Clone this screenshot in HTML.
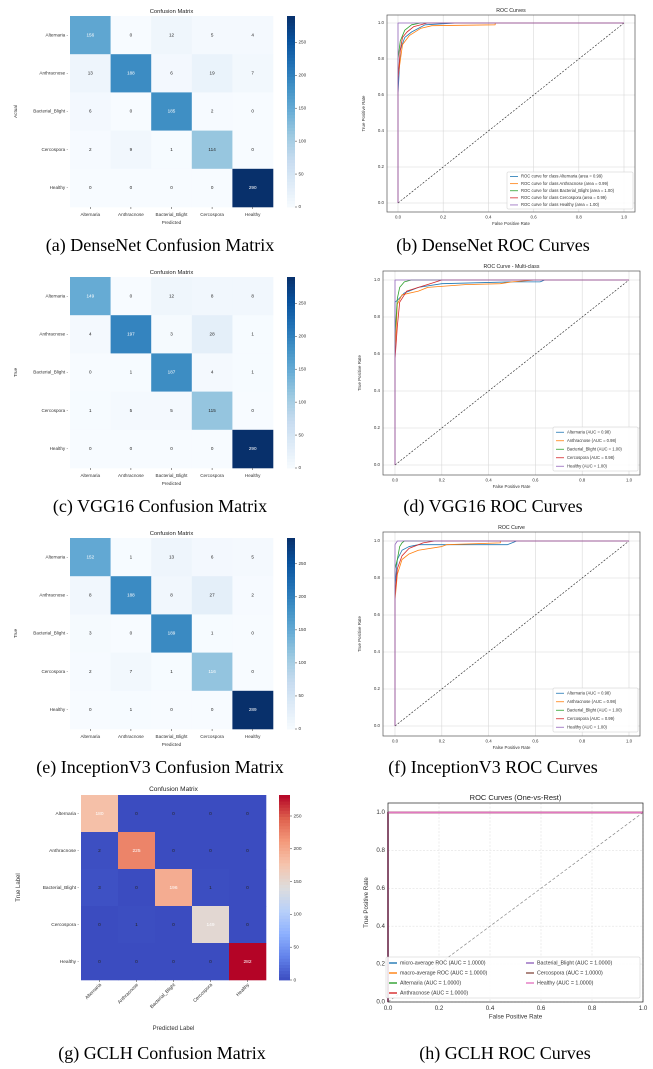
<!DOCTYPE html>
<html><head><meta charset="utf-8">
<style>
html,body{margin:0;padding:0;background:#fff;}
svg{display:block;font-family:"Liberation Sans","DejaVu Sans",sans-serif;}
.cap{font-family:"Liberation Serif",serif;font-size:18px;fill:#000;}
</style></head>
<body>
<svg id="fig" width="653" height="1069" viewBox="0 0 653 1069" xmlns="http://www.w3.org/2000/svg">
<text class="cap" x="160" y="251" text-anchor="middle">(a) DenseNet Confusion Matrix</text>
<text class="cap" x="493" y="251" text-anchor="middle">(b) DenseNet ROC Curves</text>
<text class="cap" x="160" y="512" text-anchor="middle">(c) VGG16 Confusion Matrix</text>
<text class="cap" x="493" y="512" text-anchor="middle">(d) VGG16 ROC Curves</text>
<text class="cap" x="160" y="773" text-anchor="middle">(e) InceptionV3 Confusion Matrix</text>
<text class="cap" x="493" y="773" text-anchor="middle">(f) InceptionV3 ROC Curves</text>
<text class="cap" x="162" y="1059" text-anchor="middle">(g) GCLH Confusion Matrix</text>
<text class="cap" x="505" y="1059" text-anchor="middle">(h) GCLH ROC Curves</text>
</svg>
<script>
const CLASSES = ['Alternaria','Anthracnose','Bacterial_Blight','Cercospora','Healthy'];
const cmDenseNet = [[156,0,12,5,4],[13,188,6,19,7],[6,0,185,2,0],[2,9,1,114,0],[0,0,0,0,290]];
const cmVGG = [[149,0,12,8,8],[4,197,3,28,1],[0,1,187,4,1],[1,5,5,115,0],[0,0,0,0,290]];
const cmInception = [[152,1,13,6,5],[8,188,8,27,2],[3,0,189,1,0],[2,7,1,116,0],[0,1,0,0,289]];
const cmGCLH = [[180,0,0,0,0],[2,225,0,0,0],[3,0,196,1,0],[0,1,0,149,0],[0,0,0,0,282]];
const cbTicks = [0,50,100,150,200,250];
const rocTicks = [0,0.2,0.4,0.6,0.8,1.0];
const tickLabels = ['0.0','0.2','0.4','0.6','0.8','1.0'];

const denseFpr = [
 [0,0,0.01,0.03,0.06,0.09,0.12,0.26,1],
 [0,0,0.02,0.05,0.1,0.15,0.43,0.43,1],
 [0,0,0.01,0.03,0.06,0.1,1],
 [0,0,0.01,0.02,0.04,0.07,0.13,1],
 [0,0,1]];
const denseTpr = [
 [0,0.6,0.85,0.92,0.95,0.97,0.99,1,1],
 [0,0.7,0.88,0.93,0.97,0.985,0.99,1,1],
 [0,0.8,0.9,0.96,0.99,1,1],
 [0,0.68,0.85,0.92,0.95,0.98,1,1],
 [0,1,1]];
const denseLegend = ['ROC curve for class Alternaria (area = 0.99)','ROC curve for class Anthracnose (area = 0.99)','ROC curve for class Bacterial_Blight (area = 1.00)','ROC curve for class Cercospora (area = 0.99)','ROC curve for class Healthy (area = 1.00)'];

const vggFpr = [
 [0,0,0.01,0.04,0.1,0.2,0.5,0.62,0.64,1],
 [0,0,0.01,0.03,0.1,0.14,0.3,0.45,0.5,0.6,1],
 [0,0,0.01,0.02,0.04,0.07,1],
 [0,0,0.01,0.02,0.05,0.1,0.15,0.2,1],
 [0,0,1]];
const vggTpr = [
 [0,0.88,0.89,0.93,0.96,0.98,0.99,0.99,1,1],
 [0,0.6,0.87,0.92,0.94,0.96,0.975,0.98,0.99,1,1],
 [0,0.7,0.9,0.96,0.99,1,1],
 [0,0.57,0.75,0.88,0.94,0.96,0.98,1,1],
 [0,1,1]];
const vggLegend = ['Alternaria (AUC = 0.98)','Anthracnose (AUC = 0.98)','Bacterial_Blight (AUC = 1.00)','Cercospora (AUC = 0.98)','Healthy (AUC = 1.00)'];

const incFpr = [
 [0,0,0.01,0.03,0.06,0.1,0.48,0.5,0.52,1],
 [0,0,0.01,0.03,0.06,0.1,0.2,0.22,0.45,0.45,1],
 [0,0,0.01,0.02,0.03,0.04,1],
 [0,0,0.01,0.03,0.06,0.1,0.12,0.17,1],
 [0,0,0.01,1]];
const incTpr = [
 [0,0.75,0.9,0.95,0.97,0.98,0.98,0.99,1,1],
 [0,0.68,0.82,0.9,0.93,0.95,0.97,0.98,0.99,1,1],
 [0,0.85,0.9,0.97,0.99,1,1],
 [0,0.7,0.85,0.92,0.96,0.98,0.99,1,1],
 [0,0.98,1,1]];
const incLegend = ['Alternaria (AUC = 0.98)','Anthracnose (AUC = 0.98)','Bacterial_Blight (AUC = 1.00)','Cercospora (AUC = 0.99)','Healthy (AUC = 1.00)'];

const gclhFpr = [[0,0,1],[0,0,1],[0,0,1],[0,0,1],[0,0,1],[0,0,1],[0,0,1]];
const gclhTpr = [[0,1,1],[0,1,1],[0,1,1],[0,1,1],[0,1,1],[0,1,1],[0,1,1]];
const gclhLegend = ['micro-average ROC (AUC = 1.0000)','macro-average ROC (AUC = 1.0000)','Alternaria (AUC = 1.0000)','Anthracnose (AUC = 1.0000)','Bacterial_Blight (AUC = 1.0000)','Cercospora (AUC = 1.0000)','Healthy (AUC = 1.0000)'];

const C10 = ['#1f77b4','#ff7f0e','#2ca02c','#d62728','#9467bd','#8c564b','#e377c2'];
const NS = 'http://www.w3.org/2000/svg';
const svg = document.getElementById('fig');

function mk(tag, attrs, parent){
  const e = document.createElementNS(NS, tag);
  for (const k in attrs) e.setAttribute(k, attrs[k]);
  (parent||svg).appendChild(e);
  return e;
}
function txt(s, attrs, parent){ const e = mk('text', attrs, parent); e.textContent = s; return e; }

const BLUES = [[247,251,255],[222,235,247],[198,219,239],[158,202,225],[107,174,214],[66,146,198],[33,113,181],[8,81,156],[8,48,107]];
const COOL = [[59,76,192],[98,130,234],[141,176,254],[184,208,249],[221,221,221],[245,196,173],[244,154,123],[222,96,77],[180,4,38]];
function cmap(stops, t){
  t = Math.max(0, Math.min(1, t));
  const p = t*(stops.length-1), i = Math.min(Math.floor(p), stops.length-2), f = p-i;
  const a = stops[i], b = stops[i+1];
  return 'rgb('+a.map((v,k)=>Math.round(v+(b[k]-v)*f)).join(',')+')';
}

function drawCM(o){
  const g = mk('g', {});
  
  
  const n = CLASSES.length, cw = o.w/n, ch = o.h/n;
  const vmax = Math.max(...o.data.flat());
  const t = txt('Confusion Matrix', {x:o.x+o.w/2, y:o.titleY, 'text-anchor':'middle', 'font-size':o.tfs, fill:'#222'}, g);
  
  
  o.data.forEach((row, r) => row.forEach((v, c) => {
    const cell = mk('rect', {x:o.x+c*cw, y:o.y+r*ch, width:cw+0.3, height:ch+0.3, fill:cmap(o.cmap, v/vmax)}, g);
    
    
    const lab = txt(String(v), {x:o.x+(c+0.5)*cw, y:o.y+(r+0.5)*ch, 'text-anchor':'middle', 'dominant-baseline':'middle', 'font-size':o.fs, fill:(v/vmax>0.4)?'#fff':'#262626'}, g);
    
    
  }));
  CLASSES.forEach((name, i) => {
    const yl = txt(name+' -', {x:o.x-2, y:o.y+(i+0.5)*ch, 'text-anchor':'end', 'dominant-baseline':'middle', 'font-size':o.fs, fill:'#333'}, g);
    
    
    const cx = o.x+(i+0.5)*cw;
    mk('line', {x1:cx, x2:cx, y1:o.y+o.h, y2:o.y+o.h+2, stroke:'#333', 'stroke-width':0.5}, g);
    let xl;
    if (o.rotated){
      xl = txt(name, {x:cx+2, y:o.y+o.h+5, 'text-anchor':'end', 'font-size':o.fs, fill:'#333', transform:'rotate(-45 '+(cx+2)+' '+(o.y+o.h+5)+')'}, g);
    } else {
      xl = txt(name, {x:cx, y:o.y+o.h+9, 'text-anchor':'middle', 'font-size':o.fs, fill:'#333'}, g);
    }
    
    
  });
  const xt = txt(o.xlabel, {x:o.x+o.w/2, y:o.xlY, 'text-anchor':'middle', 'font-size':o.lfs, fill:'#333'}, g);
  
  
  const yt = txt(o.ylabel, {x:o.ylX, y:o.y+o.h/2, 'text-anchor':'middle', 'font-size':o.lfs, fill:'#333', transform:'rotate(-90 '+o.ylX+' '+(o.y+o.h/2)+')'}, g);
  
  
  const steps = 60;
  for (let i=0;i<steps;i++){
    const s = mk('rect', {x:o.cbx, y:o.y+o.h*(1-(i+1)/steps), width:o.cbw, height:o.h/steps+0.4, fill:cmap(o.cmap, (i+0.5)/steps)}, g);
    
    
  }
  cbTicks.forEach(v => {
    const yy = o.y+o.h*(1-v/vmax);
    mk('line', {x1:o.cbx+o.cbw, x2:o.cbx+o.cbw+2, y1:yy, y2:yy, stroke:'#333', 'stroke-width':0.5}, g);
    const cl = txt(String(v), {x:o.cbx+o.cbw+3.5, y:yy, 'dominant-baseline':'middle', 'font-size':o.fs, fill:'#333'}, g);
    
    
  });
}

function drawROC(o){
  const g = mk('g', {});
  
  
  const sx = v => o.px0 + (o.px1-o.px0)*v;
  const sy = v => o.py0 + (o.py1-o.py0)*v;
  mk('rect', {x:o.ax, y:o.ay, width:o.aw, height:o.ah, fill:'#fff'}, g);
  rocTicks.forEach((v, i) => {
    const gx = mk('line', {x1:sx(v), x2:sx(v), y1:o.ay, y2:o.ay+o.ah, stroke:o.gridColor, 'stroke-width':0.6, 'stroke-dasharray':o.gridDash||'none'}, g);
    
    
    const gy = mk('line', {x1:o.ax, x2:o.ax+o.aw, y1:sy(v), y2:sy(v), stroke:o.gridColor, 'stroke-width':0.6, 'stroke-dasharray':o.gridDash||'none'}, g);
    
    
    const xl = txt(tickLabels[i], {x:sx(v), y:o.ay+o.ah+o.tfs+2, 'text-anchor':'middle', 'font-size':o.tfs, fill:'#333'}, g);
    
    
    const yl = txt(tickLabels[i], {x:o.ax-3, y:sy(v), 'text-anchor':'end', 'dominant-baseline':'middle', 'font-size':o.tfs, fill:'#333'}, g);
    
    
  });
  const diag = mk('line', {x1:sx(0), y1:sy(0), x2:sx(1), y2:sy(1), stroke:o.diagColor, 'stroke-width':o.diagW, 'stroke-dasharray':o.diagDash}, g);
  
  
  o.fpr.forEach((xs, k) => {
    const d = xs.map((x, i) => (i?'L':'M')+sx(x).toFixed(2)+' '+sy(o.tpr[k][i]).toFixed(2)).join(' ');
    const p = mk('path', {d:d, fill:'none', stroke:C10[k], 'stroke-width':o.lw, 'stroke-linejoin':'round'}, g);
    
    
  });
  mk('rect', {x:o.ax, y:o.ay, width:o.aw, height:o.ah, fill:'none', stroke:o.frame, 'stroke-width':0.7}, g);
  const tt = txt(o.title, {x:o.ax+o.aw/2, y:o.ay-3, 'text-anchor':'middle', 'font-size':o.titleFs, fill:'#222'}, g);
  
  
  const xt = txt('False Positive Rate', {x:o.ax+o.aw/2, y:o.ay+o.ah+o.tfs*2+4, 'text-anchor':'middle', 'font-size':o.lfs, fill:'#333'}, g);
  
  
  const yx = o.ax-o.ylOff, yy = o.ay+o.ah/2;
  const yt = txt('True Positive Rate', {x:yx, y:yy, 'text-anchor':'middle', 'font-size':o.lfs, fill:'#333', transform:'rotate(-90 '+yx+' '+yy+')'}, g);
  
  
  const L = o.legend;
  const lb = mk('rect', {x:L.x, y:L.y, width:L.w, height:L.h, fill:'#fff', 'fill-opacity':0.85, stroke:'#ccc', 'stroke-width':0.5, rx:1}, g);
  
  
  o.labels.forEach((s, k) => {
    const col = L.cols>1 ? Math.floor(k/L.perCol) : 0;
    const row = L.cols>1 ? k%L.perCol : k;
    const lx = L.x+3+col*(L.colW||0), ly = L.y+L.dy*(row+0.5)+1;
    mk('line', {x1:lx, x2:lx+8, y1:ly, y2:ly, stroke:C10[k], 'stroke-width':o.lw}, g);
    const lt = txt(s, {x:lx+11, y:ly, 'dominant-baseline':'middle', 'font-size':L.fs, fill:'#333'}, g);
    
    
  });
}

drawCM({name:'densenet-confusion-matrix', data:cmDenseNet, cmap:BLUES, x:70, y:16, w:203, h:191, cbx:287, cbw:8, titleY:13, fs:4.6, tfs:5.8, lfs:4.6, xlabel:'Predicted', xlY:224, ylabel:'Actual', ylX:17});
drawCM({name:'vgg16-confusion-matrix', data:cmVGG, cmap:BLUES, x:70, y:277, w:203, h:191, cbx:287, cbw:8, titleY:274, fs:4.6, tfs:5.8, lfs:4.6, xlabel:'Predicted', xlY:485, ylabel:'True', ylX:17});
drawCM({name:'inception-confusion-matrix', data:cmInception, cmap:BLUES, x:70, y:538, w:203, h:191, cbx:287, cbw:8, titleY:535, fs:4.6, tfs:5.8, lfs:4.6, xlabel:'Predicted', xlY:746, ylabel:'True', ylX:17});
drawCM({name:'gclh-confusion-matrix', data:cmGCLH, cmap:COOL, x:81, y:795, w:185, h:185, cbx:279, cbw:11, titleY:791, fs:4.8, tfs:6.5, lfs:6, xlabel:'Predicted Label', xlY:1030, ylabel:'True Label', ylX:20, rotated:true});

drawROC({name:'densenet-roc', title:'ROC Curves', fpr:denseFpr, tpr:denseTpr, labels:denseLegend,
  ax:387, ay:15, aw:248, ah:197, px0:398, px1:624, py0:203, py1:23, tfs:4.4, lfs:4.4, titleFs:5.2, ylOff:22,
  gridColor:'#d8d8d8', frame:'#555', diagColor:'#222', diagW:0.6, diagDash:'2,1.5', lw:0.8,
  legend:{x:507, y:172, w:126, h:37, dy:7.1, fs:4.2, cols:1}});
drawROC({name:'vgg16-roc', title:'ROC Curve - Multi-class', fpr:vggFpr, tpr:vggTpr, labels:vggLegend,
  ax:383, ay:271, aw:257, ah:204, px0:395, px1:629, py0:465, py1:280, tfs:4.4, lfs:4.4, titleFs:5.2, ylOff:22,
  gridColor:'#d8d8d8', frame:'#555', diagColor:'#222', diagW:0.6, diagDash:'2,1.5', lw:0.8,
  legend:{x:553, y:427, w:85, h:44, dy:8.5, fs:4.2, cols:1}});
drawROC({name:'inception-roc', title:'ROC Curve', fpr:incFpr, tpr:incTpr, labels:incLegend,
  ax:383, ay:532, aw:257, ah:204, px0:395, px1:629, py0:726, py1:541, tfs:4.4, lfs:4.4, titleFs:5.2, ylOff:22,
  gridColor:'#d8d8d8', frame:'#555', diagColor:'#222', diagW:0.6, diagDash:'2,1.5', lw:0.8,
  legend:{x:553, y:688, w:85, h:44, dy:8.5, fs:4.2, cols:1}});
drawROC({name:'gclh-roc', title:'ROC Curves (One-vs-Rest)', fpr:gclhFpr, tpr:gclhTpr, labels:gclhLegend,
  ax:388, ay:803, aw:255, ah:199, px0:388, px1:643, py0:1002, py1:812.5, tfs:6.2, lfs:6.2, titleFs:7.5, ylOff:20,
  gridColor:'#e2e2e2', gridDash:'2,1.5', frame:'#222', diagColor:'#888', diagW:0.7, diagDash:'3,2', lw:1.4,
  legend:{x:386, y:957, w:254, h:41, dy:10, fs:5.3, cols:2, perCol:4, colW:137}});
</script>
</body></html>
